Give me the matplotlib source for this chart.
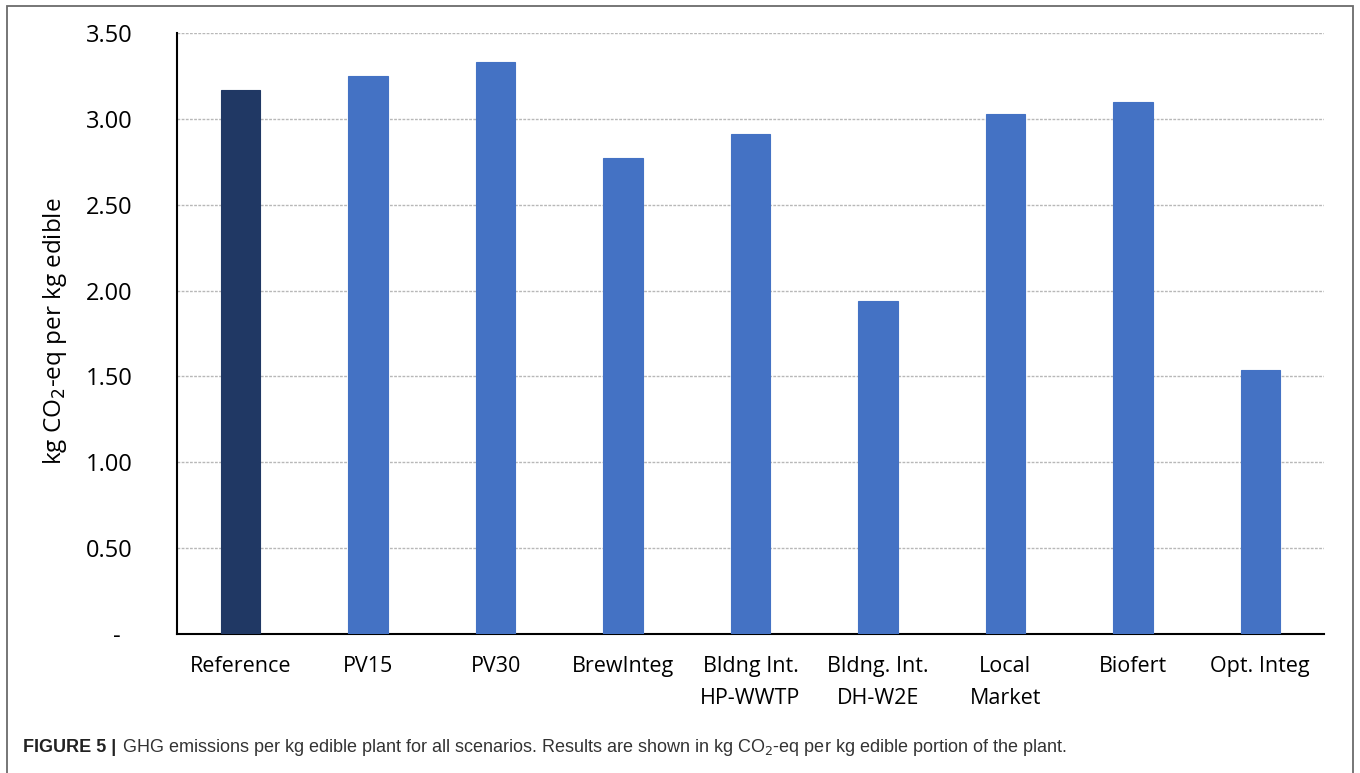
import matplotlib
matplotlib.use("Agg")
import matplotlib.pyplot as plt
from matplotlib.patches import Rectangle

scenarios = ["Reference", "PV15", "PV30", "BrewInteg", "Bldng Int.\nHP-WWTP",
             "Bldng. Int.\nDH-W2E", "Local\nMarket", "Biofert", "Opt. Integ"]
ghg = [3.17, 3.25, 3.33, 2.77, 2.91, 1.94, 3.03, 3.10, 1.54]
yticks = [0, 0.5, 1.0, 1.5, 2.0, 2.5, 3.0, 3.5]
ytick_labels = ["-  ", "0.50", "1.00", "1.50", "2.00", "2.50", "3.00", "3.50"]

W, H = 1360, 773
fig = plt.figure(figsize=(W / 100, H / 100), dpi=100)
fig.patch.set_facecolor("white")

# outer frame around the figure panel
fig.patches.append(Rectangle((7 / W, -0.05), (1353 - 7) / W, 1.05 - 6 / H,
                             transform=fig.transFigure, fill=False,
                             edgecolor="#6b6b6b", linewidth=1.3))

ax = fig.add_axes([177 / W, 1 - 634 / H, (1324 - 177) / W, (634 - 33) / H])
colors = ["#203864"] + ["#4472C4"] * (len(ghg) - 1)
ax.bar(range(len(ghg)), ghg, width=0.31, color=colors, edgecolor=colors, linewidth=0.8, zorder=3)
ax.set_xlim(-0.5, len(ghg) - 0.5)
ax.set_ylim(0, 3.5)
ax.set_yticks(yticks)
ax.set_yticklabels(ytick_labels, fontsize=17, fontfamily="Open Sans")
ax.set_xticks(range(len(ghg)))
ax.set_xticklabels(scenarios, fontsize=15.5, fontfamily="Open Sans", linespacing=1.65)
ax.tick_params(axis="y", length=0, pad=32)
ax.tick_params(axis="x", length=0, pad=16)
ax.grid(axis="y", color="#b8b8b8", linestyle=(0, (2, 1)), linewidth=1.0, zorder=0)
for s in ["top", "right"]:
    ax.spines[s].set_visible(False)
ax.spines["left"].set_linewidth(1.5)
ax.spines["bottom"].set_linewidth(1.5)

fig.text(55 / W, 1 - 331 / H, "kg CO$_2$-eq per kg edible", rotation=90,
         fontsize=17.5, fontfamily="Open Sans", ha="center", va="center")

# caption: bold label, then the rest placed right after it
cap_y = 1 - 748 / H
lab = fig.text(23 / W, cap_y, "FIGURE 5 |", fontsize=13, fontweight="bold",
               fontfamily="Liberation Sans", color="#222222", va="center")
fig.canvas.draw()
bb = lab.get_window_extent()
fig.text((bb.x1 + 6) / W, cap_y,
         "GHG emissions per kg edible plant for all scenarios. Results are shown in kg CO$_2$-eq per kg edible portion of the plant.",
         fontsize=13, fontfamily="Liberation Sans", color="#333333", va="center")

fig.savefig("out.png", dpi=100)
